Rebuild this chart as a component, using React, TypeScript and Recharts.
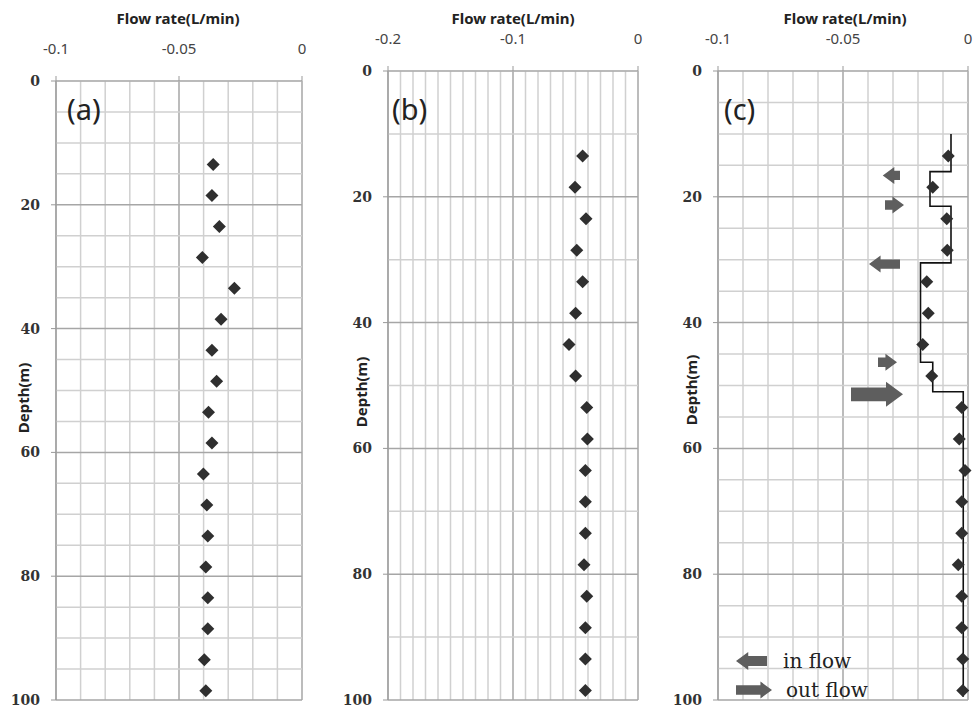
import { ReferenceLine, Scatter, ScatterChart, XAxis, YAxis } from "recharts";

// depth of each measurement (m)
const depths = [13.5, 18.5, 23.5, 28.5, 33.5, 38.5, 43.5, 48.5, 53.5, 58.5, 63.5, 68.5, 73.5, 78.5, 83.5, 88.5, 93.5, 98.5];

// flow rate (L/min) for each panel
const flowA = [-0.0361, -0.0366, -0.0336, -0.0405, -0.0275, -0.0329, -0.0366, -0.0347, -0.038, -0.0366, -0.0401, -0.0387, -0.0383, -0.0391, -0.0383, -0.0383, -0.0397, -0.0391];
const flowB = [-0.0443, -0.0504, -0.0416, -0.049, -0.0443, -0.0499, -0.0552, -0.0499, -0.041, -0.0405, -0.0421, -0.0421, -0.0421, -0.0432, -0.041, -0.0421, -0.0421, -0.0421];
const flowC = [-0.0079, -0.0141, -0.0085, -0.0083, -0.0165, -0.0159, -0.0181, -0.0145, -0.0025, -0.0035, -0.0012, -0.0025, -0.0025, -0.0039, -0.0025, -0.0025, -0.0021, -0.0021];

// interpreted step profile in (c)
const stepFlow = [-0.0068, -0.0068, -0.0152, -0.0152, -0.0068, -0.0068, -0.019, -0.019, -0.0141, -0.0141, -0.0019, -0.0019];
const stepDepth = [10, 16, 16, 21.5, 21.5, 30.5, 30.5, 46.3, 46.3, 51, 51, 99.5];

// in/out flow arrows in (c): tail -> head
const arrowDepth = [16.6, 21.3, 30.7, 46.3, 51.4];
const arrowTail = [-0.0272, -0.0332, -0.0272, -0.036, -0.0468];
const arrowHead = [-0.0341, -0.0256, -0.0396, -0.0284, -0.026];

const depthTicks = [0, 20, 40, 60, 80, 100];

const toRows = (flows: number[], ds: number[]) => flows.map((flow, i) => ({ flow, depth: ds[i] }));

const minorGrid = "#d0d0d0";
const majorGrid = "#a6a6a6";

function Diamond(props: any) {
  const { cx, cy } = props;
  if (cx == null || cy == null) return <g />;
  const r = 6.5;
  return (
    <polygon
      points={`${cx},${cy - r} ${cx + r},${cy} ${cx},${cy + r} ${cx - r},${cy}`}
      fill="#2f2f2f"
    />
  );
}

function arrowPoints(x1: number, x2: number, y: number, big: number) {
  const dir = x2 > x1 ? 1 : -1;
  const t = big * 0.55;
  const hl = big * 0.68;
  const neck = x2 - dir * hl;
  const pts = [
    [x1, y - t / 2],
    [neck, y - t / 2],
    [neck, y - big / 2],
    [x2, y],
    [neck, y + big / 2],
    [neck, y + t / 2],
    [x1, y + t / 2],
  ];
  return pts.map((p) => p.join(",")).join(" ");
}

function FlowArrow(props: any) {
  const { x1, y1, x2 } = props;
  if (x1 == null) return <g />;
  const len = Math.abs(x2 - x1);
  const h = len > 40 ? 25 : 17;
  return <polygon points={arrowPoints(x1, x2, y1, h)} fill="#5e5e5e" />;
}

function XTick(props: any) {
  const { x, y, payload } = props;
  return (
    <text x={x} y={y} textAnchor="middle" fontFamily="Noto Sans" fontSize={15} fill="#444">
      {String(payload.value)}
    </text>
  );
}

function YTick(props: any) {
  const { x, y, payload } = props;
  return (
    <text x={x} y={y} dy="0.36em" textAnchor="end" fontFamily="DejaVu Serif" fontWeight="bold" fontSize={14} fill="#333">
      {String(payload.value)}
    </text>
  );
}

const isMult = (v: number, m: number) => Math.abs(v / m - Math.round(v / m)) < 1e-6;

function Panel({
  left,
  width,
  xMin,
  xTicks,
  xMajor,
  topH,
  yW,
  right,
  yStep,
  xTickMargin,
  children,
}: {
  left: number;
  width: number;
  xMin: number;
  xTicks: number[];
  xMajor: number;
  topH: number;
  yW: number;
  right: number;
  yStep: number;
  xTickMargin: number;
  children: React.ReactNode;
}) {
  const vLines: number[] = [];
  const n = Math.round(-xMin / 0.01);
  for (let i = 0; i <= n; i++) vLines.push(Number((xMin + i * 0.01).toFixed(3)));
  const hLines: number[] = [];
  for (let d = 0; d <= 100; d += yStep) hLines.push(d);

  return (
    <div style={{ position: "absolute", left, top: 0 }}>
      <ScatterChart width={width} height={715} margin={{ top: 0, right, bottom: 15, left: 0 }}>
        <XAxis
          type="number"
          dataKey="flow"
          orientation="top"
          domain={[xMin, 0]}
          ticks={xTicks}
          interval={0}
          height={topH}
          stroke="#999"
          tickSize={5}
          tickMargin={xTickMargin}
          tick={XTick}
        />
        <YAxis
          type="number"
          dataKey="depth"
          domain={[0, 100]}
          ticks={depthTicks}
          interval={0}
          reversed
          width={yW}
          stroke="#999"
          tickSize={5}
          tickMargin={11}
          tick={YTick}
        />
        {vLines.map((v) => (
          <ReferenceLine
            key={"v" + v}
            x={v}
            stroke={isMult(v, xMajor) ? majorGrid : minorGrid}
            strokeWidth={1.5}
          />
        ))}
        {hLines.map((d) => (
          <ReferenceLine
            key={"h" + d}
            y={d}
            stroke={d % 20 === 0 && d > 0 ? majorGrid : minorGrid}
            strokeWidth={1.5}
          />
        ))}
        {children}
      </ScatterChart>
    </div>
  );
}

export default function App() {
  const rowsA = toRows(flowA, depths);
  const rowsB = toRows(flowB, depths);
  const rowsC = toRows(flowC, depths);
  const stepRows = toRows(stepFlow, stepDepth);

  return (
    <div style={{ position: "absolute", left: 0, top: 0, width: 976, height: 715, background: "#fff" }}>
      <Panel left={0} width={320} xMin={-0.1} xTicks={[-0.1, -0.05, 0]} xMajor={0.05} topH={81} yW={56} right={18} yStep={5} xTickMargin={22}>
        <Scatter data={rowsA} shape={Diamond} isAnimationActive={false} />
      </Panel>
      <Panel left={330} width={320} xMin={-0.2} xTicks={[-0.2, -0.1, 0]} xMajor={0.1} topH={71} yW={58} right={12} yStep={10} xTickMargin={22}>
        <Scatter data={rowsB} shape={Diamond} isAnimationActive={false} />
      </Panel>
      <Panel left={660} width={316} xMin={-0.1} xTicks={[-0.1, -0.05, 0]} xMajor={0.05} topH={71} yW={58} right={8} yStep={5} xTickMargin={22}>
        {arrowDepth.map((d, i) => (
          <ReferenceLine
            key={"a" + i}
            segment={[
              { x: arrowTail[i], y: d },
              { x: arrowHead[i], y: d },
            ]}
            shape={FlowArrow}
          />
        ))}
        <Scatter
          data={stepRows}
          line={{ stroke: "#111", strokeWidth: 1.6 }}
          lineType="joint"
          shape={() => <g />}
          isAnimationActive={false}
        />
        <Scatter data={rowsC} shape={Diamond} isAnimationActive={false} />
      </Panel>

      <svg
        width={976}
        height={715}
        style={{ position: "absolute", left: 0, top: 0, pointerEvents: "none" }}
      >
        {[178, 513, 845].map((cx) => (
          <text
            key={"t" + cx}
            x={cx}
            y={24}
            textAnchor="middle"
            fontFamily="Noto Sans"
            fontWeight="bold"
            fontSize={15}
            fill="#222"
          >
            Flow rate(L/min)
          </text>
        ))}
        {[
          [24, 398],
          [362, 392],
          [692, 390],
        ].map(([x, y]) => (
          <text
            key={"d" + x}
            x={x}
            y={y}
            transform={`rotate(-90 ${x} ${y})`}
            textAnchor="middle"
            dy="0.35em"
            fontFamily="Noto Sans"
            fontWeight="bold"
            fontSize={15}
            fill="#222"
          >
            Depth(m)
          </text>
        ))}
        <text x={67} y={120} fontFamily="Noto Sans" fontSize={29} fill="#222">(a)</text>
        <text x={392} y={120} fontFamily="Noto Sans" fontSize={29} fill="#222">(b)</text>
        <text x={724} y={120} fontFamily="Noto Sans" fontSize={29} fill="#222">(c)</text>

        <polygon points={arrowPoints(767, 736, 661, 18)} fill="#5e5e5e" />
        <text x={783} y={668} fontFamily="DejaVu Serif" fontSize={20} fill="#222">in flow</text>
        <polygon points={arrowPoints(736, 772, 690, 17)} fill="#5e5e5e" />
        <text x={786} y={697} fontFamily="DejaVu Serif" fontSize={20} fill="#222">out flow</text>
      </svg>
    </div>
  );
}
